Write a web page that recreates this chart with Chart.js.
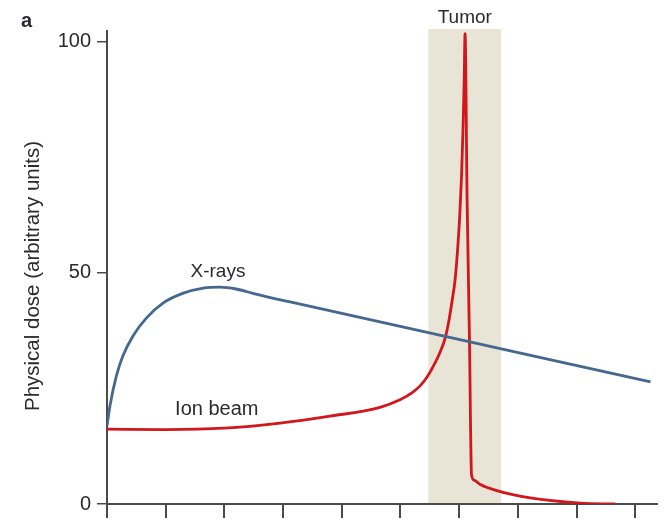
<!DOCTYPE html>
<html>
<head>
<meta charset="utf-8">
<script src="https://cdn.jsdelivr.net/npm/chart.js@4"></script>
<style>
html,body{margin:0;padding:0;background:#fff;}
#wrap{width:669px;height:522px;position:relative;}
canvas{background:#fff;}
</style>
</head>
<body>
<div id="wrap"><canvas id="c" width="669" height="522"></canvas></div>
<script>
// ---- data ----
const xrayDepth = [0, 0.05, 0.16, 0.27, 0.44, 0.67, 0.96, 1.30, 1.64, 1.92, 2.2, 2.5, 2.8, 3.12, 9.26];
const xrayDose  = [16.9, 21.2, 27.7, 32.0, 36.3, 40.2, 43.5, 45.6, 46.7, 46.9, 46.5, 45.5, 44.6, 43.7, 26.4];

const ionDepth = [0, 0.99, 2.0, 2.95, 3.8, 4.65, 5.0, 5.2, 5.33, 5.45, 5.56, 5.68, 5.76, 5.83, 5.88, 5.93, 5.97, 6.01, 6.04, 6.065, 6.085, 6.10, 6.135, 6.175, 6.21, 6.26, 6.36, 6.64, 7.21, 8.06, 8.66];
const ionDose  = [16.2, 16.1, 16.4, 17.5, 19.0, 20.9, 22.6, 24.1, 25.5, 27.4, 29.8, 33.0, 35.8, 40.0, 44.0, 48.5, 54.5, 62.5, 71.0, 81.0, 91.5, 101.7, 65.7, 35.6, 6.3, 5.1, 4.2, 2.9, 1.3, 0.2, 0.0];

const yTicks = [0, 50, 100];
const xTicks = [0, 1, 2, 3, 4, 5, 6, 7, 8, 9];
const tumorRange = [5.475, 6.715];
const yMax = 102.3;
const xMax = 9.37;

const labels = { panel: 'a', tumor: 'Tumor', xray: 'X-rays', ion: 'Ion beam', yTitle: 'Physical dose (arbitrary units)' };

const FONT = '"Liberation Sans", Arial, sans-serif';
const TEXT = '#2a2a33';

const toPts = (xs, ys) => xs.map((x, i) => ({x: x, y: ys[i]}));

const bandPlugin = {
  id: 'band',
  beforeDraw(chart) {
    const {ctx, scales: {x, y}} = chart;
    const x0 = x.getPixelForValue(tumorRange[0]);
    const x1 = x.getPixelForValue(tumorRange[1]);
    const yt = y.getPixelForValue(yMax) - 2;
    const yb = y.getPixelForValue(0);
    ctx.save();
    ctx.fillStyle = '#e8e4d6';
    ctx.fillRect(x0, yt, x1 - x0, yb - yt);
    ctx.restore();
  },
  afterDraw(chart) {
    const {ctx, scales: {x, y}} = chart;
    ctx.save();
    ctx.fillStyle = TEXT;
    ctx.textAlign = 'center';
    ctx.textBaseline = 'alphabetic';
    ctx.font = '19px ' + FONT;
    const tx = (x.getPixelForValue(tumorRange[0]) + x.getPixelForValue(tumorRange[1])) / 2;
    ctx.fillText(labels.tumor, tx, 23);
    ctx.font = '19px ' + FONT;
    ctx.fillText(labels.xray, x.getPixelForValue(1.89), y.getPixelForValue(49.0));
    ctx.font = '20px ' + FONT;
    ctx.fillText(labels.ion, x.getPixelForValue(1.87), y.getPixelForValue(19.2));
    ctx.font = 'bold 20px ' + FONT;
    ctx.textAlign = 'left';
    ctx.fillText(labels.panel, 21, 27);
    // y axis title
    ctx.translate(33, 276);
    ctx.rotate(-Math.PI / 2);
    ctx.textAlign = 'center';
    ctx.textBaseline = 'middle';
    ctx.font = '20.5px ' + FONT;
    ctx.fillText(labels.yTitle, 0, 0);
    ctx.restore();
  }
};

new Chart(document.getElementById('c'), {
  type: 'line',
  data: {
    datasets: [
      { label: labels.xray, data: toPts(xrayDepth, xrayDose), borderColor: '#44688f', borderWidth: 2.8, pointRadius: 0, cubicInterpolationMode: 'monotone', fill: false },
      { label: labels.ion, data: toPts(ionDepth, ionDose), borderColor: '#d2161c', borderWidth: 2.8, pointRadius: 0, cubicInterpolationMode: 'monotone', fill: false }
    ]
  },
  options: {
    responsive: false,
    animation: false,
    events: [],
    layout: { padding: { top: 31, right: 12, bottom: 0, left: 0 } },
    plugins: { legend: { display: false }, tooltip: { enabled: false } },
    scales: {
      x: {
        type: 'linear', min: 0, max: xMax,
        afterBuildTicks(s) { s.ticks = xTicks.map(v => ({value: v})); },
        afterFit(s) { s.height = 17; },
        ticks: { display: false },
        grid: { drawOnChartArea: false, drawTicks: true, tickLength: 14, color: '#4a4a4a', lineWidth: 2 },
        border: { display: true, color: '#4a4a4a', width: 2 }
      },
      y: {
        type: 'linear', min: 0, max: yMax,
        afterBuildTicks(s) { s.ticks = yTicks.map(v => ({value: v})); },
        afterFit(s) { s.width = 107; },
        ticks: { padding: 6, color: TEXT, font: { family: FONT, size: 20 } },
        grid: { drawOnChartArea: false, drawTicks: true, tickLength: 10, color: '#4a4a4a', lineWidth: 1.5 },
        border: { display: true, color: '#4a4a4a', width: 2 }
      }
    }
  },
  plugins: [bandPlugin]
});
</script>
</body>
</html>
